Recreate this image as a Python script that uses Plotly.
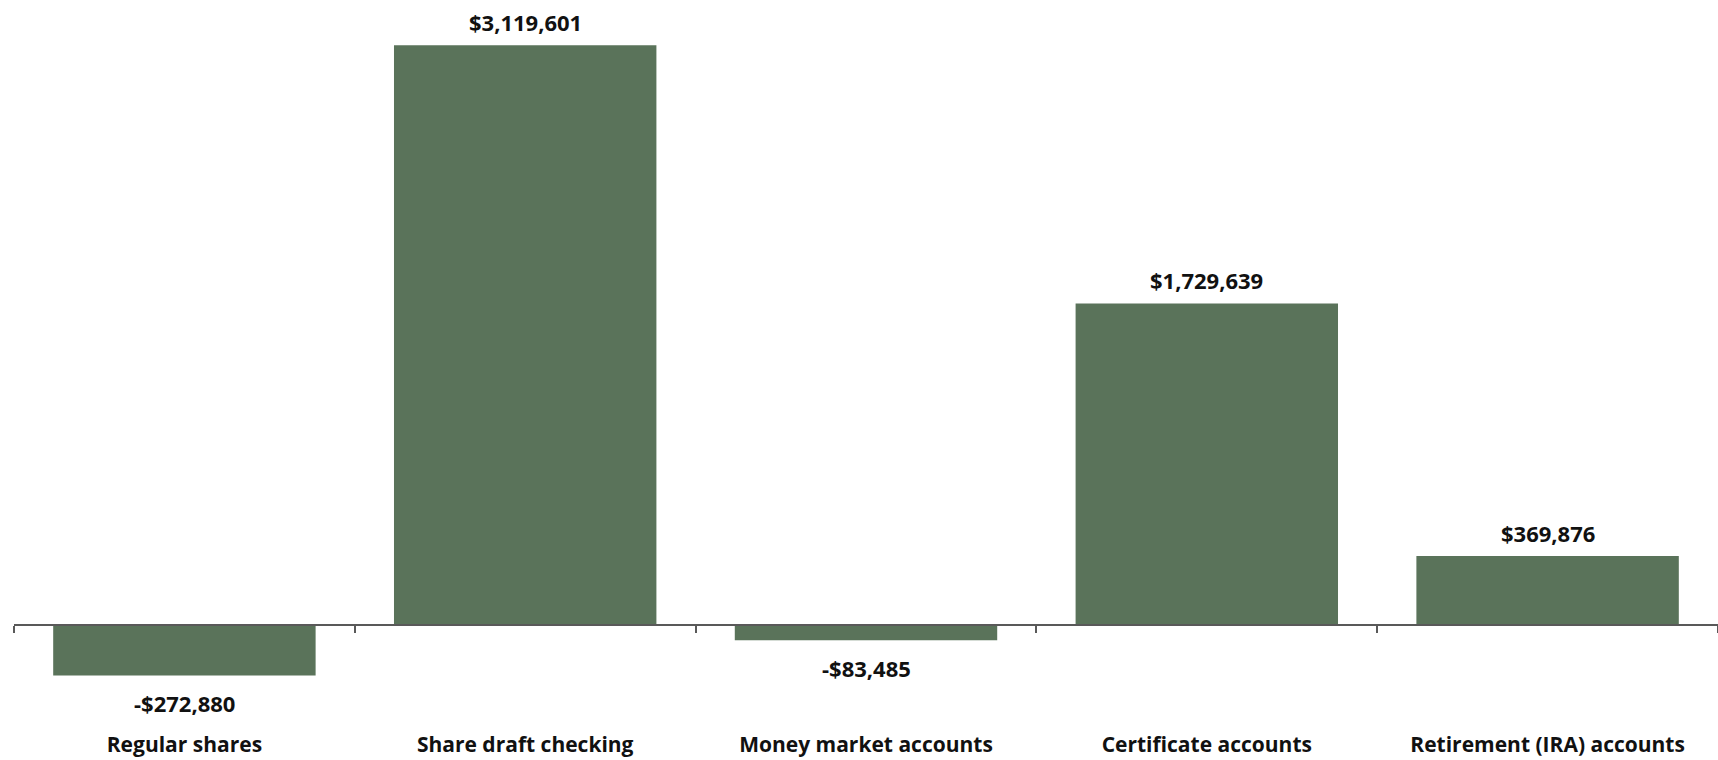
import plotly.graph_objects as go

# Change in balances by account type
categories = [
    "Regular shares",
    "Share draft checking",
    "Money market accounts",
    "Certificate accounts",
    "Retirement (IRA) accounts",
]
changes = [-272880, 3119601, -83485, 1729639, 369876]

BAR_COLOR = "#5A735A"
AXIS_COLOR = "#595959"
TEXT_COLOR = "#111111"
FONT = "Open Sans"

Y_MIN, Y_MAX = -728400, 3363100


def money(v):
    return f"-${abs(v):,}" if v < 0 else f"${v:,}"


fig = go.Figure(
    go.Bar(
        x=categories,
        y=changes,
        marker=dict(color=BAR_COLOR, line=dict(width=0)),
        hoverinfo="skip",
    )
)

# value labels above positive bars, below negative ones
for cat, v in zip(categories, changes):
    fig.add_annotation(
        x=cat,
        y=v,
        xref="x",
        yref="y",
        text=f"<b>{money(v)}</b>",
        showarrow=False,
        yanchor="middle",
        yshift=23 if v >= 0 else -28,
        font=dict(family=FONT, size=22, color=TEXT_COLOR),
    )

zero_pos = (0 - Y_MIN) / (Y_MAX - Y_MIN)

fig.update_layout(
    width=1718,
    height=760,
    margin=dict(l=14, r=0, t=0, b=0),
    paper_bgcolor="white",
    plot_bgcolor="white",
    bargap=0.23,
    showlegend=False,
    xaxis=dict(
        type="category",
        anchor="free",
        position=zero_pos,
        showline=True,
        linecolor=AXIS_COLOR,
        linewidth=2,
        showgrid=False,
        zeroline=False,
        ticks="outside",
        tickson="boundaries",
        ticklen=7,
        tickwidth=2,
        tickcolor=AXIS_COLOR,
        ticklabelstandoff=101,
        tickfont=dict(family=FONT, size=21, color=TEXT_COLOR, weight="bold"),
    ),
    yaxis=dict(
        range=[Y_MIN, Y_MAX],
        visible=False,
        showgrid=False,
        zeroline=False,
    ),
)

fig.write_html("out.html")
